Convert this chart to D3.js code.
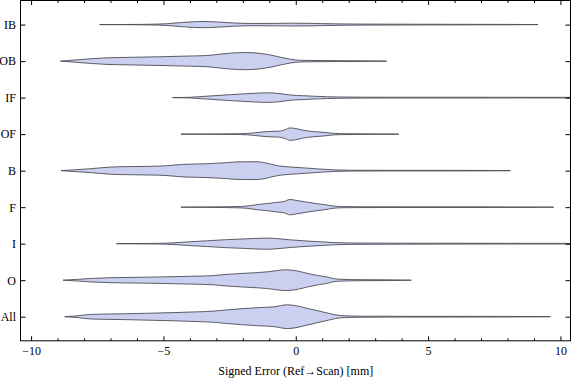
<!DOCTYPE html>
<html><head><meta charset="utf-8">
<script src="https://cdn.jsdelivr.net/npm/d3@7"></script>
<style>
html,body{margin:0;padding:0;background:#fff;}
svg{display:block;}
.tick text{font-family:"Liberation Serif","Times New Roman",serif;font-size:12px;fill:#000;}
</style></head>
<body>
<svg id="c" width="576" height="381"></svg>
<script>
// Categories (top to bottom)
const categories = ["IB","OB","IF","OF","B","F","I","O","All"];
// Each violin: signed error positions [mm] and relative density (half-width) at those positions
const ibX  = [-7.41,-6.5,-5.86,-5.2,-4.85,-4.35,-3.9,-3.47,-2.96,-2.33,-1.57,-0.8,-0.2,0.5,1.0,1.7,2.5,4,6,8,9.15];
const ibD  = [0,0.1,0.2,0.5,0.9,2.0,2.8,3.1,2.6,1.6,1.1,1.2,1.4,1.3,1.0,0.7,0.5,0.4,0.3,0.2,0];
const obX  = [-8.89,-8.3,-7.76,-7.13,-6.2,-5.23,-3.97,-3.34,-2.71,-2.2,-1.83,-1.32,-0.9,-0.57,0.19,1.07,1.7,2.5,3.43];
const obD  = [0,1.2,2.3,3.3,3.8,4.3,5.1,5.6,7.4,8.4,8.6,7.6,5.8,3.8,0.8,0.5,0.4,0.3,0];
const ifX  = [-4.66,-4.2,-3.97,-3.5,-3.09,-2.5,-2.08,-1.5,-1.07,-0.6,-0.19,0.3,0.69,1.2,1.7,2.5,4,7,10,10.6];
const ifD  = [0,0.2,0.4,1.2,1.9,2.9,3.6,4.4,4.8,4.0,2.6,1.9,1.4,0.9,0.6,0.45,0.4,0.35,0.3,0.3];
const ofX  = [-4.34,-3.34,-2.08,-1.6,-1.2,-0.9,-0.6,-0.4,-0.22,0.0,0.3,0.66,1.07,1.4,1.7,2.5,3.89];
const ofD  = [0,0.1,0.4,1.2,2.3,2.8,3.0,4.5,6.2,5.6,3.8,2.6,1.8,0.8,0.5,0.3,0];
const bX   = [-8.87,-8.3,-7.76,-7.0,-6.2,-5.2,-4.6,-4.24,-3.35,-2.7,-2.1,-1.46,-1.1,-0.7,-0.19,0.44,0.9,1.45,2.08,3,5,7,8.11];
const bD   = [0,1.0,1.9,3.6,4.1,4.5,5.5,6.3,6.9,7.8,8.9,8.9,7.5,5.0,3.6,2.5,1.6,0.8,0.4,0.35,0.3,0.25,0];
const fX   = [-4.34,-3.34,-2.08,-1.7,-1.45,-1.0,-0.72,-0.45,-0.22,0.0,0.44,0.8,1.07,1.4,1.7,2.5,4,7,9.74];
const fD   = [0,0.2,0.7,1.6,2.6,3.8,4.8,5.6,7.7,6.8,4.9,3.5,2.6,1.2,0.6,0.4,0.35,0.3,0];
const iX   = [-6.78,-5.8,-5.23,-4.6,-4.0,-3.34,-2.7,-2.08,-1.5,-1.07,-0.6,-0.19,0.44,1.0,1.45,2.08,3,4,6,8,10,10.6];
const iD   = [0,0.2,0.3,0.9,1.9,2.9,3.9,4.6,5.3,5.6,4.8,3.8,2.6,1.8,1.1,0.7,0.55,0.5,0.4,0.35,0.3,0.3];
const oX   = [-8.79,-8.2,-7.76,-7.1,-5.86,-5.0,-3.97,-3.1,-2.71,-2.0,-1.45,-1.1,-0.36,0.1,0.5,0.9,1.2,1.42,1.7,2.5,3.5,4.36];
const oD   = [0,0.9,1.7,2.4,2.9,3.3,3.9,4.6,5.6,6.8,7.6,8.3,10.4,9.0,6.4,4.4,3.1,1.6,0.9,0.5,0.35,0];
const allX = [-8.73,-8.2,-7.76,-6.5,-5.5,-4.6,-3.8,-3.09,-2.6,-2.08,-1.45,-0.82,-0.32,0.1,0.44,0.9,1.32,1.7,2.5,4,6,8,9.62];
const allD = [0,1.0,2.3,2.9,3.5,4.1,4.8,5.6,6.8,7.9,9.0,9.9,11.9,10.5,8.3,5.5,2.9,1.1,0.5,0.4,0.35,0.3,0];
const xMajorTicks = [-10,-5,0,5,10];
const xMinorTicks = d3.range(-10, 11, 1);
const xTitle = "Signed Error (Ref\u2192Scan) [mm]";

const violins = [[ibX,ibD],[obX,obD],[ifX,ifD],[ofX,ofD],[bX,bD],[fX,fD],[iX,iD],[oX,oD],[allX,allD]];

const svg = d3.select("#c");
const L = 20.5, R = 570.5, T = 0.5, B = 340.8;

const x = d3.scaleLinear().domain([-10.4, 10.38]).range([L, R]);
const y = d3.scalePoint().domain(categories).range([T, B]).padding(0.66);
const w = d3.scaleLinear().domain([0, 12]).range([0, 12]);

svg.append("defs").append("clipPath").attr("id","clip")
  .append("rect").attr("x",L).attr("y",T).attr("width",R-L).attr("height",B-T);

const area = d3.area().curve(d3.curveMonotoneX);
const g = svg.append("g").attr("clip-path","url(#clip)");
categories.forEach((c,i)=>{
  const [xs, ds] = violins[i];
  const cy = y(c);
  const pts = xs.map((v,j)=>({v, d: ds[j]}));
  area.x(p=>x(p.v)).y0(p=>cy - w(p.d)).y1(p=>cy + w(p.d));
  g.append("path").attr("d", area(pts))
    .attr("fill","#cbd0f1").attr("stroke","#4d4d55").attr("stroke-width",0.9)
    .attr("stroke-linejoin","round");
});

function styleAxis(sel){
  sel.select(".domain").remove();
  sel.selectAll(".tick line").attr("stroke","#000").attr("stroke-width",1);
}
// bottom major
svg.append("g").attr("transform",`translate(0,${B})`)
  .call(d3.axisBottom(x).tickValues(xMajorTicks).tickSize(-4.5).tickPadding(5.5).tickFormat(d3.format("d")))
  .call(styleAxis);
// bottom minor
svg.append("g").attr("transform",`translate(0,${B})`)
  .call(d3.axisBottom(x).tickValues(xMinorTicks.filter(v=>!xMajorTicks.includes(v))).tickSize(-2.5).tickFormat(""))
  .call(styleAxis);
// top major/minor
svg.append("g").attr("transform",`translate(0,${T})`)
  .call(d3.axisTop(x).tickValues(xMajorTicks).tickSize(-4.5).tickFormat(""))
  .call(styleAxis);
svg.append("g").attr("transform",`translate(0,${T})`)
  .call(d3.axisTop(x).tickValues(xMinorTicks.filter(v=>!xMajorTicks.includes(v))).tickSize(-2.5).tickFormat(""))
  .call(styleAxis);
// left
svg.append("g").attr("transform",`translate(${L},0)`)
  .call(d3.axisLeft(y).tickSize(-5).tickPadding(4.5))
  .call(styleAxis);
// right
svg.append("g").attr("transform",`translate(${R},0)`)
  .call(d3.axisRight(y).tickSize(-5).tickFormat(""))
  .call(styleAxis);

// frame
svg.append("rect").attr("x",L).attr("y",T).attr("width",R-L).attr("height",B-T)
  .attr("fill","none").attr("stroke","#000").attr("stroke-width",1);

svg.append("text").attr("x", x(0)).attr("y", 374.5)
  .attr("text-anchor","middle")
  .style("font-family",'"Liberation Serif","Times New Roman",serif').style("font-size","12px")
  .text(xTitle);
</script>
</body></html>
